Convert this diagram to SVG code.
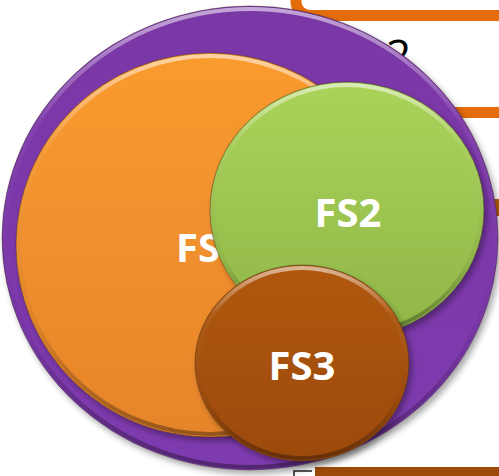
<svg xmlns="http://www.w3.org/2000/svg" width="499" height="476" viewBox="0 0 499 476">
  <style>
    .lbl { font-family: "Open Sans", "Liberation Sans", sans-serif; font-weight: 700; font-size: 40px; fill: #ffffff; }
    .bg2 { font-family: "Open Sans", "Liberation Sans", sans-serif; font-weight: 400; font-size: 44px; fill: #000000; }
    .rim { fill: none; stroke: url(#rim); stroke-width: 4; }
    .edge { fill: none; stroke: #3a2a20; stroke-opacity: 0.45; stroke-width: 1; }
  </style>
  <defs>
    <filter id="shadow" x="-10%" y="-10%" width="125%" height="125%">
      <feDropShadow dx="3" dy="4" stdDeviation="3" flood-color="#000" flood-opacity="0.35"/>
    </filter>
    <linearGradient id="rim" x1="0" y1="0" x2="0" y2="1">
      <stop offset="0" stop-color="#ffffff" stop-opacity="0.55"/>
      <stop offset="0.25" stop-color="#ffffff" stop-opacity="0.05"/>
      <stop offset="0.7" stop-color="#000000" stop-opacity="0.05"/>
      <stop offset="1" stop-color="#000000" stop-opacity="0.35"/>
    </linearGradient>
    <linearGradient id="gPurple" x1="0" y1="0" x2="0" y2="1">
      <stop offset="0" stop-color="#7a38a6"/>
      <stop offset="1" stop-color="#7e3aaf"/>
    </linearGradient>
    <linearGradient id="gOrange" x1="0" y1="0" x2="0" y2="1">
      <stop offset="0" stop-color="#fa9b2f"/>
      <stop offset="1" stop-color="#e6842b"/>
    </linearGradient>
    <linearGradient id="gGreen" x1="0" y1="0" x2="0" y2="1">
      <stop offset="0" stop-color="#aad35a"/>
      <stop offset="1" stop-color="#90b648"/>
    </linearGradient>
    <linearGradient id="gBrown" x1="0" y1="0" x2="0" y2="1">
      <stop offset="0" stop-color="#b0580e"/>
      <stop offset="1" stop-color="#9c4a08"/>
    </linearGradient>
  </defs>

  <g id="background">
    <rect x="296" y="-40" width="260" height="55.5" rx="14" fill="none" stroke="#e46c0a" stroke-width="11"/>
    <rect x="330" y="107" width="180" height="11" fill="#e46c0a"/>
    <rect x="480" y="199" width="30" height="17" fill="#c0600a"/>
    <rect x="315" y="467" width="190" height="12" fill="#9e4a06"/>
    <path d="M294 476 V471 H312" fill="none" stroke="#222" stroke-width="1.5"/>
    <text class="bg2" x="386" y="71">2</text>
  </g>

  <g id="set-outer">
    <ellipse cx="250" cy="238" rx="248" ry="232" fill="url(#gPurple)" filter="url(#shadow)"/>
    <ellipse cx="250" cy="238" rx="245" ry="229" class="rim"/>
    <ellipse cx="250" cy="238" rx="248" ry="232" class="edge"/>
  </g>

  <g id="fs1">
    <ellipse cx="210" cy="245" rx="194" ry="192" fill="url(#gOrange)" filter="url(#shadow)"/>
    <ellipse cx="210" cy="245" rx="191" ry="189" class="rim"/>
    <ellipse cx="210" cy="245" rx="194" ry="192" class="edge"/>
    <text class="lbl" x="176" y="262">FS1</text>
  </g>

  <g id="fs2">
    <ellipse cx="347" cy="210" rx="137" ry="128" fill="url(#gGreen)" filter="url(#shadow)"/>
    <ellipse cx="347" cy="210" rx="134" ry="125" class="rim"/>
    <ellipse cx="347" cy="210" rx="137" ry="128" class="edge"/>
    <text class="lbl" x="348" y="227" text-anchor="middle">FS2</text>
  </g>

  <g id="fs3">
    <ellipse cx="302" cy="363" rx="107" ry="98" fill="url(#gBrown)" filter="url(#shadow)"/>
    <ellipse cx="302" cy="363" rx="104" ry="95" class="rim"/>
    <ellipse cx="302" cy="363" rx="107" ry="98" class="edge"/>
    <text class="lbl" x="302" y="380" text-anchor="middle">FS3</text>
  </g>

  <g id="connectors"/>
</svg>
